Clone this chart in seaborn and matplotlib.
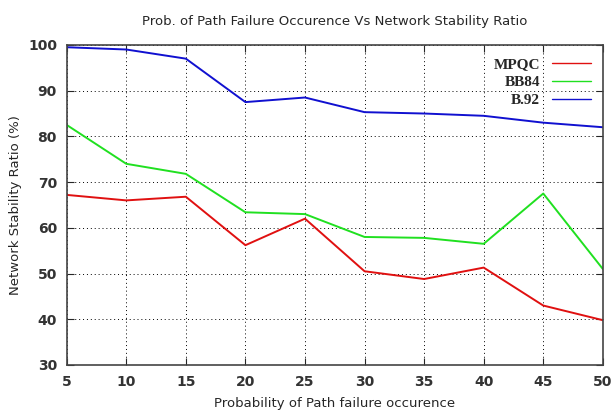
import pandas as pd
import matplotlib
matplotlib.use("Agg")
import matplotlib.pyplot as plt
import seaborn as sns

prob = [5, 10, 15, 20, 25, 30, 35, 40, 45, 50]
mpqc = [67.2, 66.0, 66.8, 56.2, 62.0, 50.5, 48.8, 51.3, 43.0, 39.8]
bb84 = [82.5, 74.0, 71.8, 63.4, 63.0, 58.0, 57.8, 56.5, 67.5, 51.0]
b92 = [99.5, 99.0, 97.0, 87.5, 88.5, 85.3, 85.0, 84.5, 83.0, 82.0]
series_names = ["MPQC", "BB84", "B.92"]

df = pd.DataFrame({"prob": prob * 3,
                   "ratio": mpqc + bb84 + b92,
                   "scheme": [n for n in series_names for _ in prob]})

sns.set_style("ticks")
plt.rcParams['font.family'] = ['DejaVu Sans']

fig = plt.figure(figsize=(6.12, 4.2), dpi=100)
ax = fig.add_axes([0.109, 0.131, 0.876, 0.762])

sns.lineplot(data=df, x="prob", y="ratio", hue="scheme",
             palette=["#e01010", "#20e020", "#1010d0"],
             linewidth=1.4, ax=ax)

ax.set_xlim(5, 50)
ax.set_ylim(30, 100)
ax.set_xticks(prob)
ax.set_yticks(range(30, 101, 10))
ax.grid(True, color="black", linestyle=(0, (1, 3)), linewidth=0.7)
ax.tick_params(direction="in", top=True, right=True, length=5,
               labelsize=10, pad=7)
for lab in ax.get_xticklabels() + ax.get_yticklabels():
    lab.set_fontweight("bold")
    lab.set_color("#333333")
for s in ax.spines.values():
    s.set_color("#444444")
    s.set_linewidth(1.2)

ax.set_xlabel("Probability of Path failure occurence", fontsize=9.5, labelpad=6)
ax.set_ylabel("Network Stability Ratio (%)", fontsize=9.5, labelpad=4)
ax.set_title("Prob. of Path Failure Occurence Vs Network Stability Ratio",
             fontsize=9.5, pad=14)

leg = ax.legend(title=None, loc="upper right", frameon=False, markerfirst=False,
                handlelength=2.5, labelspacing=0.3, borderaxespad=0.4,
                prop={"family": "Liberation Serif", "weight": "bold", "size": 11})
for h in leg.get_lines():
    h.set_linewidth(1.0)

fig.savefig("out.png", dpi=100)
